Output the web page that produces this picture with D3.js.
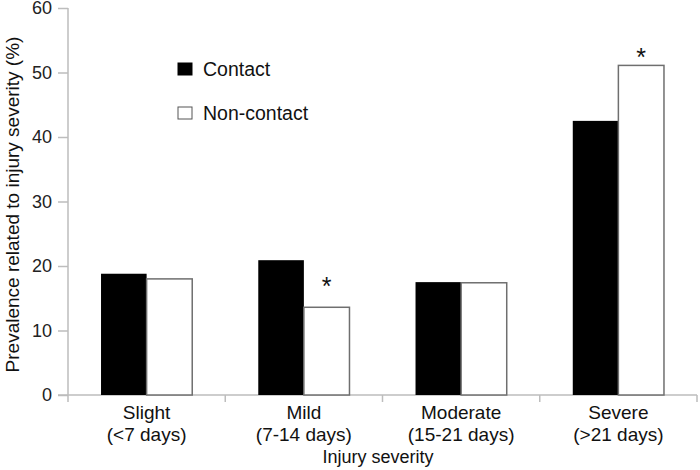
<!DOCTYPE html>
<html>
<head>
<meta charset="utf-8">
<script src="https://cdn.jsdelivr.net/npm/d3@7"></script>
<style>
  body { margin: 0; background: #fff; }
  svg text { font-family: "Liberation Sans", Arial, sans-serif; fill: #111; }
</style>
</head>
<body>
<div id="chart"></div>
<script>
'use strict';

// Data
const categories = ['Slight', 'Mild', 'Moderate', 'Severe'];
const subLabels = ['(<7 days)', '(7-14 days)', '(15-21 days)', '(>21 days)'];
const series = ['Contact', 'Non-contact'];
const contact = [18.8, 20.9, 17.5, 42.5];
const nonContact = [18.0, 13.6, 17.4, 51.1];
const yTicks = [0, 10, 20, 30, 40, 50, 60];
// significance markers: category and height (in %) of the asterisk
const stars = [
  { cat: 'Mild', series: 'Non-contact', value: 17.3 },
  { cat: 'Severe', series: 'Non-contact', value: 52.9 }
];

const margin = { top: 8, right: 3, bottom: 75, left: 68 };
const width = 700 - margin.left - margin.right;
const height = 470 - margin.top - margin.bottom;

const svg = d3.select('#chart').append('svg')
    .attr('width', 700)
    .attr('height', 470)
  .append('g')
    .attr('transform', 'translate(' + margin.left + ',' + margin.top + ')');

const x = d3.scaleBand()
    .domain(categories)
    .range([0, width])
    .paddingInner(0)
    .paddingOuter(0);

const xSub = d3.scaleBand()
    .domain(series)
    .range([x.bandwidth() * 0.21, x.bandwidth() * 0.79]);

const y = d3.scaleLinear()
    .domain([0, 60])
    .range([height, 0]);

const axisColor = '#bdbdbd';

// Y axis
const yAxis = svg.append('g')
    .call(d3.axisLeft(y).tickValues(yTicks).tickSize(10).tickPadding(6));
yAxis.select('.domain').remove();
yAxis.append('line')
    .attr('x1', 0).attr('x2', 0)
    .attr('y1', 0).attr('y2', height + 7)
    .attr('stroke', axisColor).attr('stroke-width', 1.5);
yAxis.selectAll('.tick line').attr('stroke', axisColor).attr('stroke-width', 1.5);
yAxis.selectAll('.tick text')
    .attr('font-size', 18)
    .style('fill', '#222');

// X axis
const xAxisG = svg.append('g')
    .attr('transform', 'translate(0,' + height + ')');
xAxisG.append('line')
    .attr('x1', -10).attr('x2', width)
    .attr('stroke', axisColor).attr('stroke-width', 1.5);
xAxisG.selectAll('.xtick')
    .data(categories.slice(1).concat(['end']))
    .enter().append('line')
    .attr('class', 'xtick')
    .attr('x1', (d, i) => x.bandwidth() * (i + 1))
    .attr('x2', (d, i) => x.bandwidth() * (i + 1))
    .attr('y1', 0).attr('y2', 7)
    .attr('stroke', axisColor).attr('stroke-width', 1.5);

const xLabels = xAxisG.selectAll('.xlabel')
    .data(categories)
    .enter().append('text')
    .attr('class', 'xlabel')
    .attr('text-anchor', 'middle')
    .attr('font-size', 19)
    .attr('transform', (d) => 'translate(' + (x(d) + x.bandwidth() / 2) + ',0)');
xLabels.append('tspan').attr('x', 0).attr('y', 24).text((d) => d);
xLabels.append('tspan').attr('x', 0).attr('y', 46).text((d, i) => subLabels[i]);

// Axis titles
svg.append('text')
    .attr('x', 310)
    .attr('y', height + 68)
    .attr('text-anchor', 'middle')
    .attr('font-size', 18)
    .text('Injury severity');

svg.append('text')
    .attr('transform', 'translate(' + (-49) + ',' + (height / 2 + 3) + ') rotate(-90)')
    .attr('text-anchor', 'middle')
    .attr('font-size', 19)
    .text('Prevalence related to injury severity (%)');

// Bars
const rows = categories.map((c, i) => ({ cat: c, values: [
  { key: 'Contact', value: contact[i] },
  { key: 'Non-contact', value: nonContact[i] }
] }));

const groups = svg.selectAll('.group')
    .data(rows)
    .enter().append('g')
    .attr('class', 'group')
    .attr('transform', (d) => 'translate(' + x(d.cat) + ',0)');

groups.selectAll('rect')
    .data((d) => d.values)
    .enter().append('rect')
    .attr('x', (d) => xSub(d.key))
    .attr('width', xSub.bandwidth())
    .attr('y', (d) => y(d.value))
    .attr('height', (d) => height - y(d.value))
    .attr('fill', (d) => d.key === 'Contact' ? '#000' : '#fff')
    .attr('stroke', (d) => d.key === 'Contact' ? '#000' : '#6f6f6f')
    .attr('stroke-width', (d) => d.key === 'Contact' ? 0 : 1.5);

// Significance asterisks
svg.selectAll('.star')
    .data(stars)
    .enter().append('text')
    .attr('class', 'star')
    .attr('x', (d) => x(d.cat) + xSub(d.series) + xSub.bandwidth() / 2)
    .attr('y', (d) => y(d.value) + 12)
    .attr('text-anchor', 'middle')
    .attr('font-size', 25)
    .text('*');

// Legend
const legend = svg.append('g')
    .attr('transform', 'translate(110,55)');
const legendItem = legend.selectAll('.legend')
    .data(series)
    .enter().append('g')
    .attr('class', 'legend')
    .attr('transform', (d, i) => 'translate(0,' + (i * 44) + ')');
legendItem.append('rect')
    .attr('width', 14)
    .attr('height', 12)
    .attr('fill', (d) => d === 'Contact' ? '#000' : '#fff')
    .attr('stroke', (d) => d === 'Contact' ? '#000' : '#555')
    .attr('stroke-width', 1);
legendItem.append('text')
    .attr('x', 25)
    .attr('y', 13)
    .attr('font-size', 19.5)
    .text((d) => d);
</script>
</body>
</html>
